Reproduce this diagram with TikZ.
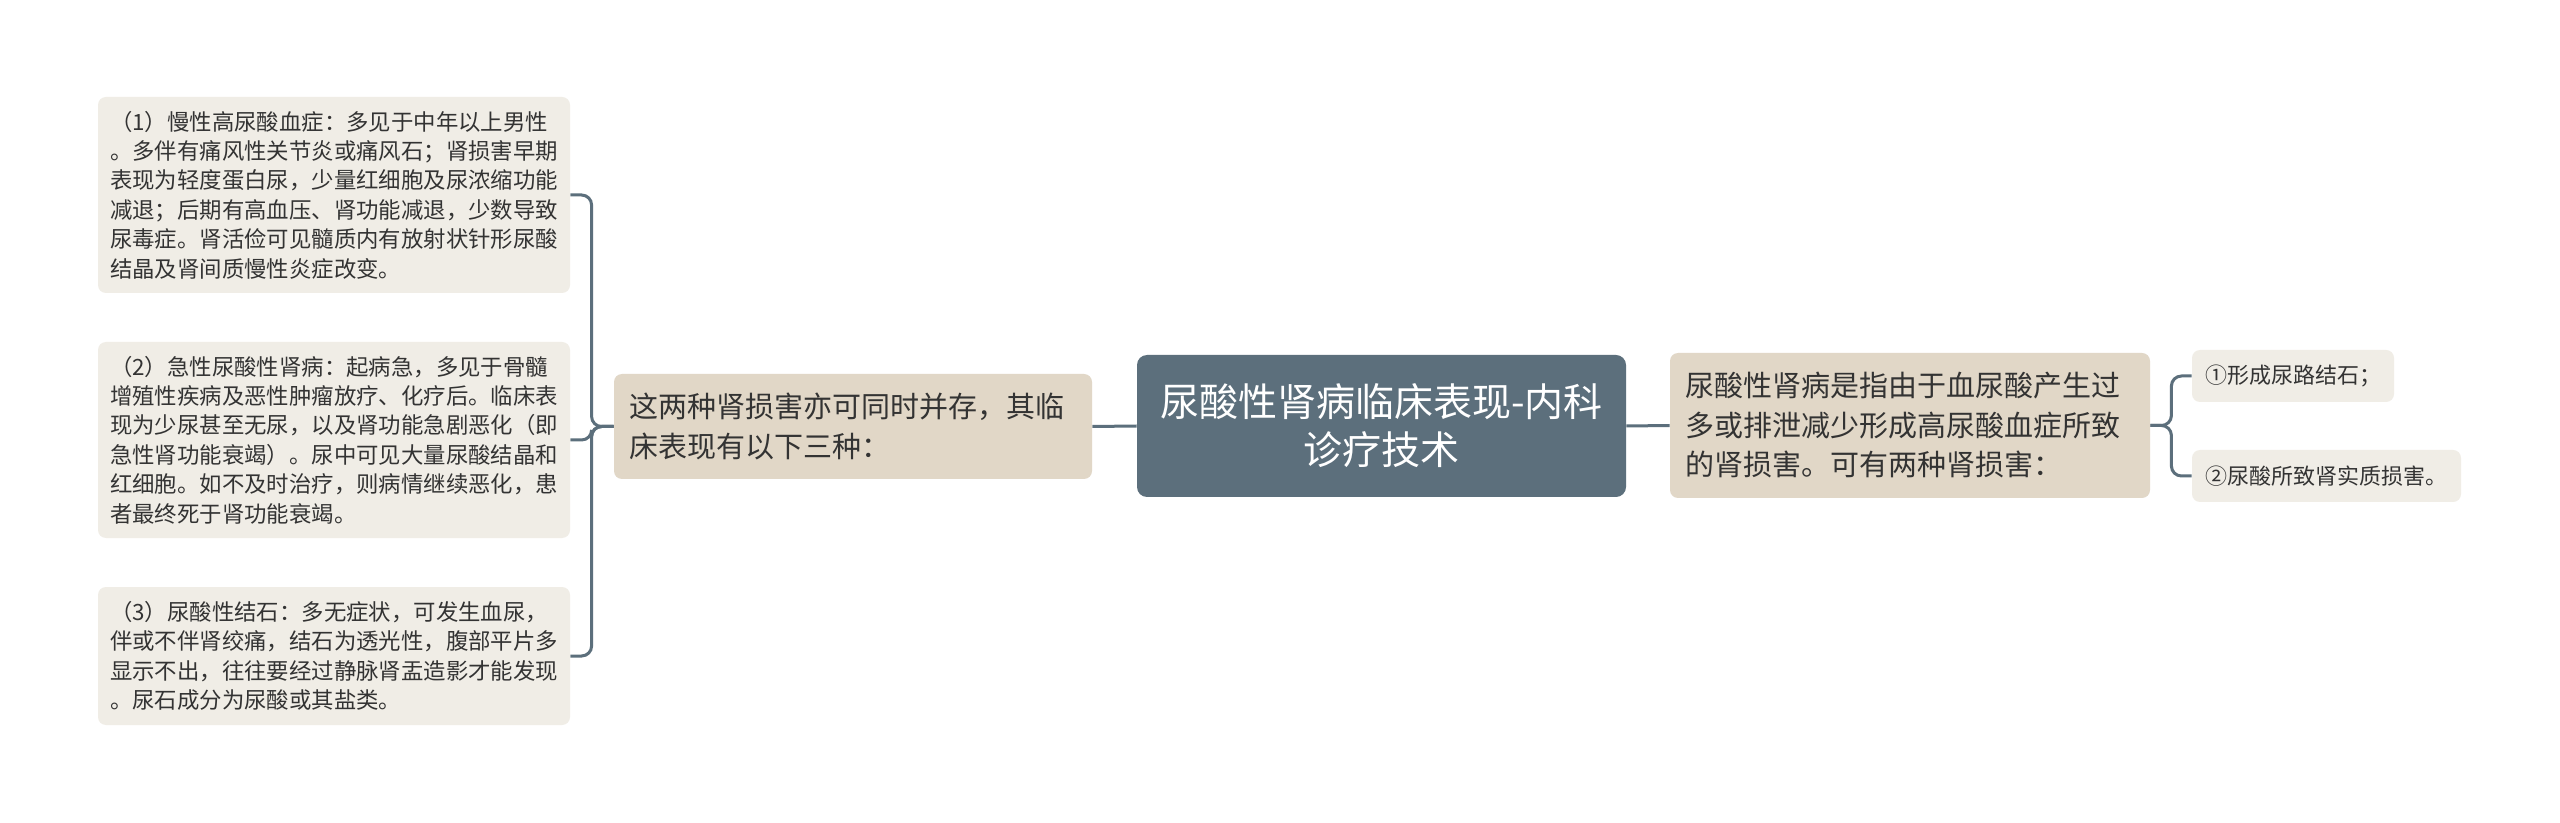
\documentclass[tikz,border=0pt]{standalone}
\usepackage{fontspec}
\setmainfont{Noto Sans CJK SC}
\usetikzlibrary{backgrounds}
\definecolor{rootc}{HTML}{5C6F7C}
\definecolor{midc}{HTML}{E1D7C7}
\definecolor{leafc}{HTML}{F0EDE6}
\definecolor{txtc}{HTML}{333333}
\definecolor{linec}{HTML}{5C6F7C}
\tikzset{
  rootbox/.style={fill=rootc, rounded corners=5pt, text=white, align=center,
    minimum width=244.5pt, minimum height=71pt, inner sep=0pt,
    font=\fontsize{19.5pt}{24pt}\selectfont},
  midbox/.style={fill=midc, rounded corners=4pt, text=txtc, align=left,
    inner xsep=7.5pt, inner ysep=0pt,
    font=\fontsize{14.5pt}{19.75pt}\selectfont},
  leafbox/.style={fill=leafc, rounded corners=4pt, text=txtc, align=left,
    inner xsep=6pt, inner ysep=0pt, text width=224pt,
    font=\fontsize{11.2pt}{14.7pt}\selectfont},
  smallleaf/.style={fill=leafc, rounded corners=4pt, text=txtc, align=left,
    inner xsep=6pt, inner ysep=0pt, minimum height=26pt,
    font=\fontsize{11pt}{14pt}\selectfont},
  conn/.style={draw=linec, line width=1.5pt, rounded corners=5pt}
}
\begin{document}
\begin{tikzpicture}[x=0.5pt, y=-0.5pt]
\useasboundingbox (0,0) rectangle (2560,823);

\node[rootbox] (root) at (1381.5,426) {尿酸性肾病临床表现-内科\\诊疗技术};

\node[midbox, text width=225pt, minimum height=72.5pt] (R) at (1910,425.5)
  {尿酸性肾病是指由于血尿酸产生过\\多或排泄减少形成高尿酸血症所致\\的肾损害。可有两种肾损害：};

\node[midbox, text width=224pt, minimum height=52.5pt] (L) at (853,426.5)
  {这两种肾损害亦可同时并存，其临\\床表现有以下三种：};

\node[leafbox, minimum height=98pt] (b1) at (334,195)
  {（1）慢性高尿酸血症：多见于中年以上男性\\。多伴有痛风性关节炎或痛风石；肾损害早期\\表现为轻度蛋白尿，少量红细胞及尿浓缩功能\\减退；后期有高血压、肾功能减退，少数导致\\尿毒症。肾活俭可见髓质内有放射状针形尿酸\\结晶及肾间质慢性炎症改变。};

\node[leafbox, minimum height=98pt] (b2) at (334,440)
  {（2）急性尿酸性肾病：起病急，多见于骨髓\\增殖性疾病及恶性肿瘤放疗、化疗后。临床表\\现为少尿甚至无尿，以及肾功能急剧恶化（即\\急性肾功能衰竭）。尿中可见大量尿酸结晶和\\红细胞。如不及时治疗，则病情继续恶化，患\\者最终死于肾功能衰竭。};

\node[leafbox, minimum height=69pt] (b3) at (334,656)
  {（3）尿酸性结石：多无症状，可发生血尿，\\伴或不伴肾绞痛，结石为透光性，腹部平片多\\显示不出，往往要经过静脉肾盂造影才能发现\\。尿石成分为尿酸或其盐类。};

\node[smallleaf, minimum width=101pt] (r1) at (2293,376) {①形成尿路结石；};
\node[smallleaf, minimum width=134.5pt] (r2) at (2326.5,476) {②尿酸所致肾实质损害。};

\begin{scope}[on background layer]
\fill[white] (0,0) rectangle (2560,823);
\draw[conn] (root.west) -- (L.east);
\draw[conn] (root.east) -- (R.west);
\draw[conn] (L.west) -- ++(-22,0) |- (b1.east);
\draw[conn] (L.west) -- ++(-22,0) |- (b2.east);
\draw[conn] (L.west) -- ++(-22,0) |- (b3.east);
\draw[conn] (R.east) -- ++(21,0) |- (r1.west);
\draw[conn] (R.east) -- ++(21,0) |- (r2.west);
\end{scope}
\end{tikzpicture}
\end{document}
